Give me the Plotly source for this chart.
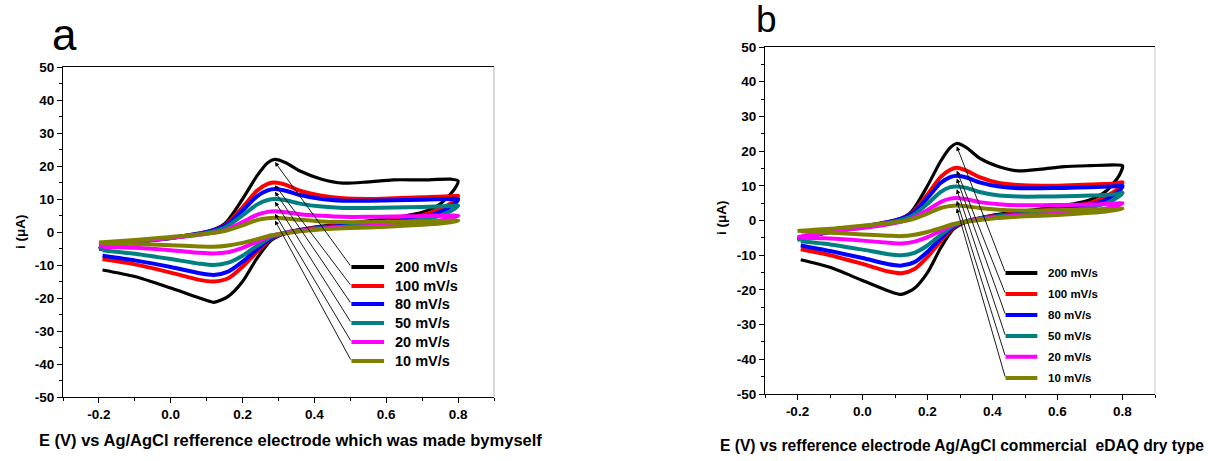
import plotly.graph_objects as go

# ---------------- data ----------------
rates = ["200 mV/s", "100 mV/s", "80 mV/s", "50 mV/s", "20 mV/s", "10 mV/s"]
colors = ["#000000", "#FF0000", "#0000FF", "#008080", "#FF00FF", "#808000"]

E_fwd = [-0.20, -0.10, 0.00, 0.10, 0.15, 0.20, 0.24, 0.27, 0.29, 0.32, 0.36, 0.42, 0.48, 0.55, 0.62, 0.70, 0.78, 0.80]
E_rev = [0.79, 0.75, 0.70, 0.60, 0.50, 0.40, 0.33, 0.28, 0.24, 0.20, 0.16, 0.12, 0.08, 0.00, -0.10, -0.19]

# panel a (home-made Ag/AgCl)
a_fwd_200 = [-5.0, -3.2, -1.8, 0.0, 2.5, 10, 17, 21, 22, 21, 18.5, 16, 14.8, 15.2, 15.8, 15.8, 16, 15.5]
a_rev_200 = [13, 8.5, 6, 4, 2.8, 1.5, 0, -2.5, -8, -15, -19.5, -21.3, -20, -17, -13.5, -11.5]
a_fwd_100 = [-5.2, -3.0, -1.8, 0, 2, 7.5, 12.5, 14.6, 15, 14.3, 12.5, 11, 10.2, 10, 10.2, 10.5, 10.8, 11]
a_rev_100 = [9.5, 7, 5, 3.3, 2.3, 1.2, 0, -2, -6, -10.5, -14, -15, -14.5, -12.3, -9.8, -8.2]
a_fwd_80 = [-5.2, -3.0, -1.8, 0, 1.8, 6.5, 10.8, 12.6, 13, 12.5, 11.2, 10, 9.5, 9.5, 9.6, 9.8, 10, 10]
a_rev_80 = [8.5, 6, 4.5, 3, 2.1, 1.1, 0, -1.8, -5.2, -9, -12, -13, -12.5, -10.6, -8.6, -7.2]
a_fwd_50 = [-5.0, -3.0, -1.8, -0.2, 1.3, 5, 8.3, 9.7, 10, 9.6, 8.6, 7.7, 7.3, 7.3, 7.4, 7.6, 7.9, 8]
a_rev_50 = [7, 5, 3.8, 2.5, 1.8, 1, 0, -1.5, -4.2, -7.2, -9.3, -10, -9.6, -8.2, -6.6, -5.5]
a_fwd_20 = [-4.0, -2.8, -1.8, -0.5, 0.5, 3, 5.2, 6.1, 6.3, 6, 5.4, 4.9, 4.6, 4.6, 4.7, 4.8, 5, 5]
a_rev_20 = [4.5, 3.5, 2.8, 2, 1.5, 0.8, -0.1, -1.2, -3, -4.8, -6.1, -6.5, -6.3, -5.5, -4.8, -4.5]
a_fwd_10 = [-3.2, -2.4, -1.5, -0.5, 0.3, 2, 3.6, 4.2, 4.3, 4.1, 3.7, 3.2, 3.0, 3.0, 3.1, 3.2, 3.4, 3.5]
a_rev_10 = [3.2, 2.6, 2.2, 1.6, 1.2, 0.6, -0.2, -1.0, -2.2, -3.3, -4.1, -4.5, -4.4, -4.0, -3.6, -3.4]

# panel b (commercial eDAQ dry type)
b_fwd_200 = [-5.2, -3.4, -2.0, -0.2, 2.5, 10, 17, 21, 22.2, 21, 18, 15.5, 14.3, 14.8, 15.5, 15.8, 16, 15.8]
b_rev_200 = [13, 8.5, 6, 4, 2.8, 1.5, 0, -2.5, -8, -15, -19.5, -21.3, -20.3, -17.3, -13.5, -11.3]
b_fwd_100 = [-5.5, -3.2, -1.8, 0, 2, 7.5, 12.5, 14.6, 15.2, 14.4, 12.5, 10.8, 10.2, 10, 10.1, 10.4, 10.7, 11]
b_rev_100 = [9.5, 7, 5, 3.3, 2.3, 1.2, 0, -2, -6, -10.5, -14, -15.2, -14.7, -12.5, -10, -8.3]
b_fwd_80 = [-5.4, -3.2, -1.8, 0, 1.8, 6.5, 10.8, 12.5, 12.9, 12.4, 11, 9.8, 9.3, 9.3, 9.4, 9.6, 9.9, 10]
b_rev_80 = [8.5, 6, 4.5, 3, 2.1, 1.1, 0, -1.8, -5.2, -9, -12, -13, -12.6, -10.8, -8.8, -7.2]
b_fwd_50 = [-5.6, -3.2, -1.9, -0.3, 1.2, 4.8, 8.2, 9.6, 9.8, 9.4, 8.2, 7.2, 6.9, 6.9, 7.0, 7.2, 7.6, 8.0]
b_rev_50 = [7, 5, 3.8, 2.5, 1.8, 1, 0, -1.5, -4.2, -7.2, -9.3, -10, -9.7, -8.4, -6.9, -6.0]
b_fwd_20 = [-4.8, -3.2, -2.2, -0.7, 0.5, 3, 5.3, 6.3, 6.5, 6.1, 5.3, 4.7, 4.4, 4.4, 4.5, 4.6, 4.9, 5.0]
b_rev_20 = [4.5, 3.5, 2.8, 2, 1.5, 0.8, -0.1, -1.2, -3, -4.8, -6.1, -6.6, -6.4, -5.8, -5.2, -5.0]
b_fwd_10 = [-3.0, -2.4, -1.5, -0.5, 0.3, 2, 3.6, 4.2, 4.3, 4.1, 3.6, 3.1, 2.9, 2.9, 3.0, 3.1, 3.3, 3.5]
b_rev_10 = [3.2, 2.6, 2.2, 1.6, 1.2, 0.6, -0.2, -1.0, -2.2, -3.3, -4.1, -4.5, -4.4, -4.0, -3.5, -3.1]

panel_a = [(a_fwd_200, a_rev_200), (a_fwd_100, a_rev_100), (a_fwd_80, a_rev_80),
           (a_fwd_50, a_rev_50), (a_fwd_20, a_rev_20), (a_fwd_10, a_rev_10)]
panel_b = [(b_fwd_200, b_rev_200), (b_fwd_100, b_rev_100), (b_fwd_80, b_rev_80),
           (b_fwd_50, b_rev_50), (b_fwd_20, b_rev_20), (b_fwd_10, b_rev_10)]

x_ticks = [-0.2, 0.0, 0.2, 0.4, 0.6, 0.8]
y_ticks = list(range(-50, 51, 10))

xtitle_a = "E (V) vs Ag/AgCl refference electrode which was made bymyself"
xtitle_b = "E (V) vs refference electrode Ag/AgCl commercial  eDAQ dry type"

# ---------------- figure ----------------
FONT = "Liberation Sans, Arial, sans-serif"
fig = go.Figure()

def add_panel(panel, xa, ya):
    for (fwd, rev), c in zip(panel, colors):
        fig.add_trace(go.Scatter(
            x=E_fwd + E_rev, y=fwd + rev, mode="lines",
            line=dict(color=c, width=3.2 if c == "#000000" else 4, shape="spline", smoothing=0.7),
            xaxis=xa, yaxis=ya, showlegend=False, hoverinfo="skip"))

add_panel(panel_a, "x", "y")
add_panel(panel_b, "x2", "y2")

common_x = dict(range=[-0.3, 0.9], tickvals=x_ticks, ticktext=[f"{v:.1f}" for v in x_ticks],
                ticks="outside", ticklen=5, tickwidth=1, tickcolor="black",
                showline=True, linecolor="black", linewidth=1, mirror=True,
                showgrid=False, zeroline=False, automargin=False,
                tickfont=dict(family=FONT, size=13.5, color="black", weight="bold"),
                minor=dict(dtick=0.1, tick0=-0.3, ticks="outside", ticklen=3, tickcolor="black"))
common_y = dict(range=[-50, 50], tickvals=y_ticks, ticktext=[str(v) for v in y_ticks],
                ticks="outside", ticklen=5, tickwidth=1,
                tickcolor="black", showline=True, linecolor="black", linewidth=1, mirror=False,
                showgrid=False, zeroline=False, automargin=False,
                tickfont=dict(family=FONT, size=13.5, color="black", weight="bold"),
                minor=dict(dtick=5, ticks="outside", ticklen=3, tickcolor="black"))

W, H = 1208, 461
fig.update_layout(
    template="none",
    width=W, height=H, autosize=False,
    margin=dict(l=0, r=0, t=0, b=0, pad=0),
    paper_bgcolor="white", plot_bgcolor="white",
    xaxis=dict(domain=[63 / W, 494 / W], anchor="y", **common_x),
    yaxis=dict(domain=[1 - 397 / H, 1 - 67 / H], anchor="x", **common_y),
    xaxis2=dict(domain=[765 / W, 1155 / W], anchor="y2", **common_x),
    yaxis2=dict(domain=[1 - 394 / H, 1 - 47 / H], anchor="x2", **common_y),
)

annotations = []
shapes = [
    dict(type="line", xref="x domain", yref="y domain", x0=1, x1=1, y0=0, y1=1,
         line=dict(color="#b0b0b0", width=1)),
    dict(type="line", xref="x2 domain", yref="y2 domain", x0=1, x1=1, y0=0, y1=1,
         line=dict(color="#c8c8c8", width=1)),
]

def legend_and_arrows(panel, xr, yr, lx0, lx1, ltx, ly, fsize):
    for i, ((fwd, rev), c, name) in enumerate(zip(panel, colors, rates)):
        y = ly[i]
        shapes.append(dict(type="line", xref=xr, yref=yr, x0=lx0, x1=lx1, y0=y, y1=y,
                           line=dict(color=c, width=4)))
        annotations.append(dict(xref=xr, yref=yr, x=ltx, y=y, text=name, showarrow=False,
                                xanchor="left", yanchor="middle",
                                font=dict(family=FONT, size=fsize, color="black", weight="bold")))
        k = fwd.index(max(fwd))
        annotations.append(dict(xref=xr, yref=yr, axref=xr, ayref=yr,
                                x=E_fwd[k], y=fwd[k] - 0.8, ax=lx0, ay=y, text="",
                                showarrow=True, arrowhead=2, arrowsize=1, arrowwidth=0.9,
                                arrowcolor="black", standoff=0, startstandoff=0))

legend_and_arrows(panel_a, "x", "y", 0.503, 0.594, 0.618,
                  [-10.6, -16.4, -21.8, -27.6, -33.3, -39.1], 14.5)
legend_and_arrows(panel_b, "x2", "y2", 0.44, 0.538, 0.565,
                  [-15.1, -21.2, -27.2, -33.3, -39.3, -45.4], 11.5)

def paper_text(x, y, text, size, bold=True, angle=0, xanchor="center"):
    annotations.append(dict(xref="paper", yref="paper", x=x / W, y=1 - y / H, text=text,
                            showarrow=False, xanchor=xanchor, yanchor="middle", textangle=angle,
                            font=dict(family=FONT, size=size, color="black",
                                      weight="bold" if bold else "normal")))

paper_text(64, 34, "a", 44, bold=False)
paper_text(766, 19, "b", 37, bold=False)
paper_text(20, 232, "i (\u03bcA)", 13.5, angle=-90)
paper_text(721, 218, "i (\u03bcA)", 13.5, angle=-90)
paper_text(37, 440, xtitle_a, 16.5, xanchor="left")
paper_text(718, 445, xtitle_b, 15.6, xanchor="left")

fig.update_layout(annotations=annotations, shapes=shapes)
fig.write_html("out.html", config={"displayModeBar": False},
               post_script="document.body.style.margin='0';")
